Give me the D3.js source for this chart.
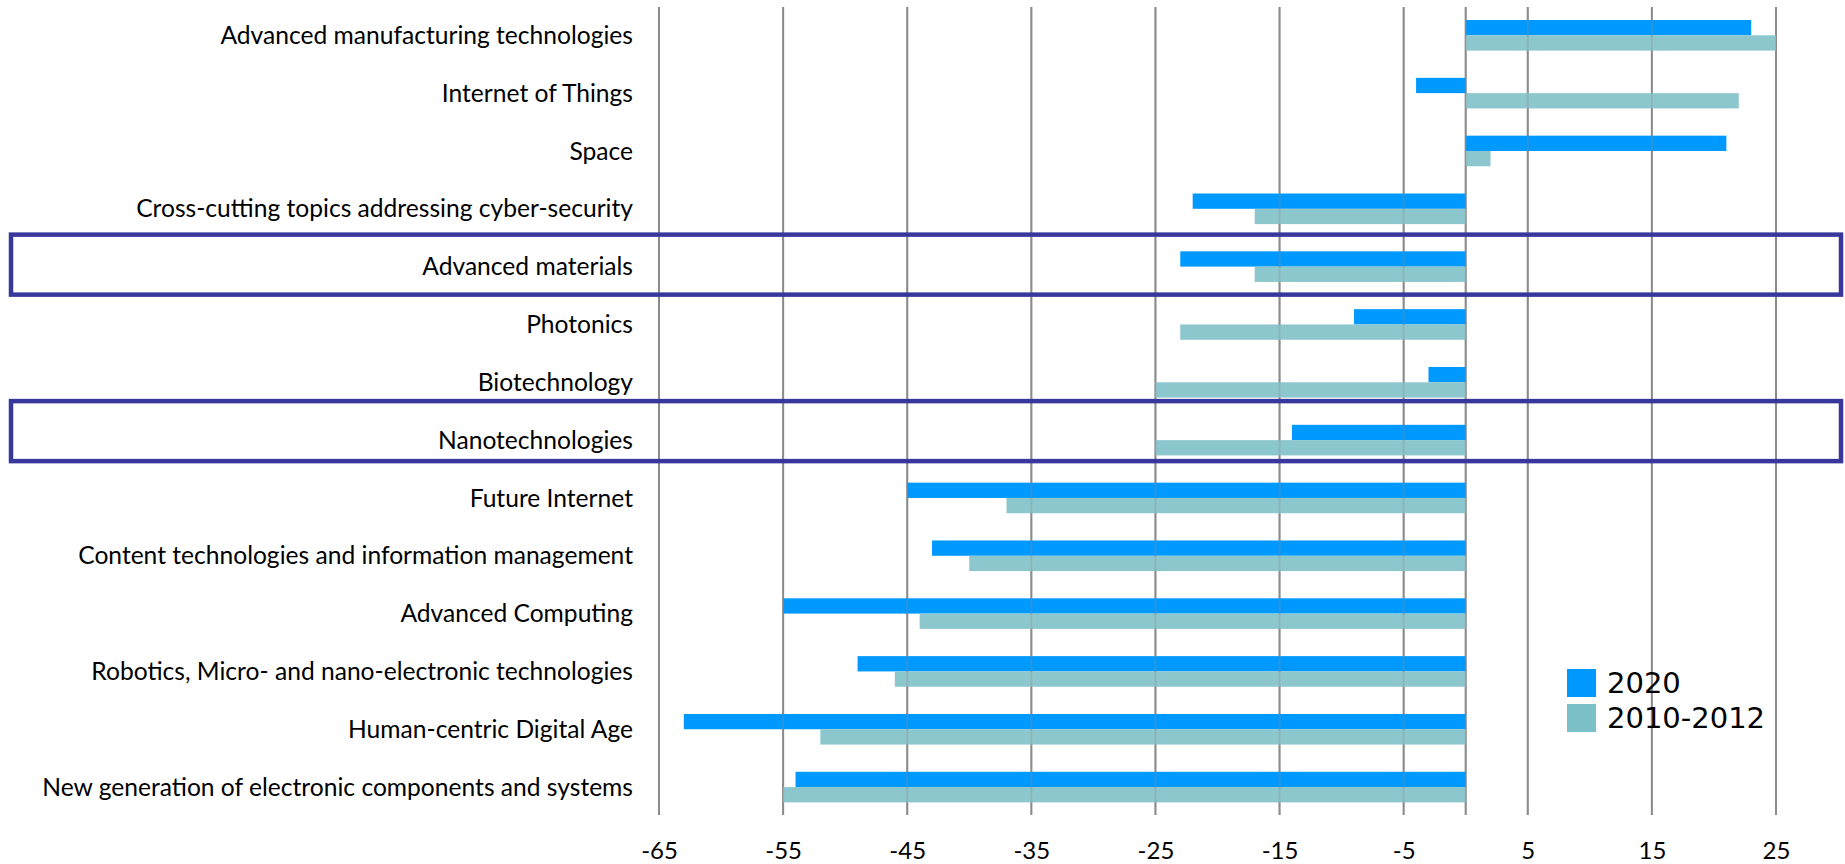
<!DOCTYPE html>
<html>
<head>
<meta charset="utf-8">
<script src="https://cdn.jsdelivr.net/npm/d3@7"></script>
<style>
  body { margin: 0; background: #fff; }
  svg { display: block; }
</style>
</head>
<body>
<div id="chart"></div>
<script>
var w = 1845;
var h = 864;

// data
var categories = [
    "Advanced manufacturing technologies",
    "Internet of Things",
    "Space",
    "Cross-cutting topics addressing cyber-security",
    "Advanced materials",
    "Photonics",
    "Biotechnology",
    "Nanotechnologies",
    "Future Internet",
    "Content technologies and information management",
    "Advanced Computing",
    "Robotics, Micro- and nano-electronic technologies",
    "Human-centric Digital Age",
    "New generation of electronic components and systems"
];
var v2020 = [23, -4, 21, -22, -23, -9, -3, -14, -45, -43, -55, -49, -63, -54];
var v2010 = [25, 22, 2, -17, -17, -23, -25, -25, -37, -40, -44, -46, -52, -55];
var tickValues = [-65, -55, -45, -35, -25, -15, -5, 5, 15, 25];
var seriesNames = ["2020", "2010-2012"];
var highlighted = ["Advanced materials", "Nanotechnologies"];

var col2020 = "#0099ff";
var col2010 = "#8cc7ce";
var gridCol = "#8c8c8c";
var boxCol = "#38389c";

var svg = d3.select("#chart").append("svg")
    .attr("width", w)
    .attr("height", h);

var x = d3.scaleLinear().domain([-65, 25]).range([659, 1776]);
var y = d3.scaleBand().domain(categories).range([6.4, 816]);
var barH = 15.3;
var mid = function(d) { return y(d) + y.bandwidth() / 2; };

// gridlines under the bars
var grid = svg.append("g");
grid.selectAll("line")
    .data(tickValues.concat([0]))
    .enter().append("line")
    .attr("x1", function(d) { return x(d); })
    .attr("x2", function(d) { return x(d); })
    .attr("y1", 7)
    .attr("y2", 815)
    .attr("stroke", gridCol)
    .attr("stroke-width", 2);

var rows = svg.append("g").selectAll("g")
    .data(categories)
    .enter().append("g");

rows.append("rect")
    .attr("x", function(d, i) { return Math.min(x(0), x(v2020[i])); })
    .attr("width", function(d, i) { return Math.abs(x(v2020[i]) - x(0)); })
    .attr("y", function(d) { return mid(d) - barH; })
    .attr("height", barH)
    .attr("fill", col2020);

rows.append("rect")
    .attr("x", function(d, i) { return Math.min(x(0), x(v2010[i])); })
    .attr("width", function(d, i) { return Math.abs(x(v2010[i]) - x(0)); })
    .attr("y", function(d) { return mid(d); })
    .attr("height", barH)
    .attr("fill", col2010);

// the grid shows faintly through the bars
svg.append("g").selectAll("line")
    .data(tickValues.concat([0]))
    .enter().append("line")
    .attr("x1", function(d) { return x(d); })
    .attr("x2", function(d) { return x(d); })
    .attr("y1", 7)
    .attr("y2", 815)
    .attr("stroke", gridCol)
    .attr("stroke-opacity", 0.3)
    .attr("stroke-width", 2);

// category labels
svg.append("g").selectAll("text")
    .data(categories)
    .enter().append("text")
    .attr("x", 633)
    .attr("y", function(d) { return mid(d); })
    .attr("dy", "0.35em")
    .attr("text-anchor", "end")
    .style("font-family", "Lato, sans-serif")
    .style("font-size", "24.6px")
    .style("fill", "#000")
    .text(function(d) { return d; });

// x axis tick labels, plain hyphen for the minus
var xAxis = d3.axisBottom(x)
    .tickValues(tickValues)
    .tickFormat(function(d) { return String(d); })
    .tickSize(0)
    .tickPadding(0);
var ax = svg.append("g")
    .attr("transform", "translate(0,842)")
    .call(xAxis);
ax.select(".domain").remove();
ax.selectAll("text")
    .style("font-family", "Lato, sans-serif")
    .style("font-size", "24px")
    .style("fill", "#000");

// highlight boxes around two categories
var boxOff = { "Advanced materials": -32, "Nanotechnologies": -39 };
svg.append("g").selectAll("rect")
    .data(highlighted)
    .enter().append("rect")
    .attr("x", 11)
    .attr("width", 1830)
    .attr("y", function(d) { return mid(d) + boxOff[d]; })
    .attr("height", 60)
    .attr("fill", "none")
    .attr("stroke", boxCol)
    .attr("stroke-width", 4.5);

// legend
var legend = svg.append("g").attr("transform", "translate(1567,669)");
var li = legend.selectAll("g")
    .data(seriesNames)
    .enter().append("g")
    .attr("transform", function(d, i) { return "translate(0," + (i * 35) + ")"; });
li.append("rect")
    .attr("width", 29)
    .attr("height", 28)
    .attr("fill", function(d, i) { return i === 0 ? col2020 : "#7cc0c7"; });
li.append("text")
    .attr("x", 40)
    .attr("y", 14)
    .attr("dy", "0.36em")
    .style("font-family", "'DejaVu Sans', sans-serif")
    .style("font-size", "29px")
    .style("fill", "#000")
    .text(function(d) { return d; });
</script>
</body>
</html>
